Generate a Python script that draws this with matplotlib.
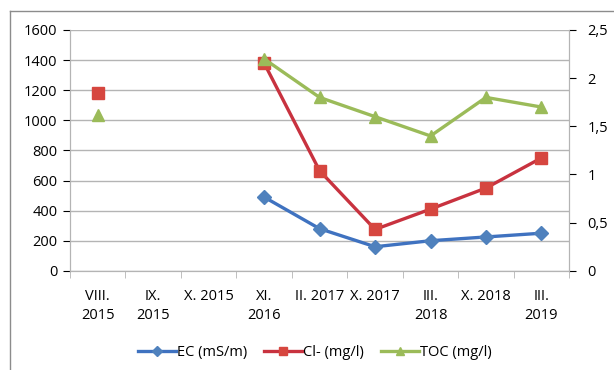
import numpy as np
import matplotlib
matplotlib.use("Agg")
import matplotlib.pyplot as plt
from matplotlib.ticker import FuncFormatter

plt.rcParams['font.family'] = ['Open Sans', 'DejaVu Sans']

# data
dates = ["VIII.\n2015", "IX.\n2015", "X. 2015", "XI.\n2016", "II. 2017",
         "X. 2017", "III.\n2018", "X. 2018", "III.\n2019"]
ec = [np.nan, np.nan, np.nan, 490, 280, 160, 200, 225, 250]
cl = [1180, np.nan, np.nan, 1380, 665, 275, 410, 550, 750]
toc = [1.62, np.nan, np.nan, 2.2, 1.8, 1.6, 1.4, 1.8, 1.7]

c_ec = '#3F72C0'
c_cl = '#C8323F'
c_toc = '#9BBB59'
grid_c = '#B4B4B4'

fig = plt.figure(figsize=(6.14, 3.70), dpi=100)
ax = fig.add_axes([0.114, 0.268, 0.813, 0.651])
ax2 = ax.twinx()

x = np.arange(len(dates))
l1, = ax.plot(x, ec, color=c_ec, lw=2.4, marker='D', ms=7, mfc='#4F81BD', mec='#4F81BD', label='EC (mS/m)')
l2, = ax.plot(x, cl, color=c_cl, lw=2.4, marker='s', ms=9, mfc='#D6463F', mec='#D6463F', label='Cl- (mg/l)')
l3, = ax2.plot(x, toc, color=c_toc, lw=2.4, marker='^', ms=9, mfc='#9BBB59', mec='#9BBB59', label='TOC (mg/l)')

ax.set_xlim(-0.5, len(dates) - 0.5)
ax.set_ylim(0, 1600)
ax.set_yticks(range(0, 1601, 200))
ax2.set_ylim(0, 2.5)
ax2.set_yticks([0, 0.5, 1, 1.5, 2, 2.5])
ax2.yaxis.set_major_formatter(FuncFormatter(lambda v, p: ('%g' % v).replace('.', ',')))

ax.yaxis.grid(True, color=grid_c, lw=1)
ax.set_axisbelow(True)

ax.set_xticks(x)
ax.set_xticklabels(dates, va='top', linespacing=1.4)
ax.set_xticks(np.arange(-0.5, len(dates)), minor=True)
ax.tick_params(axis='x', which='major', length=0, pad=13)
ax.tick_params(axis='x', which='minor', length=5, color=grid_c)
ax.tick_params(axis='y', length=5, color=grid_c, pad=4)
ax2.tick_params(axis='y', length=5, color=grid_c, pad=8)
for a in (ax, ax2):
    a.tick_params(labelsize=10.5, colors='black')
    a.spines['top'].set_visible(False)
    for s in ['left', 'right', 'bottom']:
        a.spines[s].set_color(grid_c)

fig.legend(handles=[l1, l2, l3], loc='center', bbox_to_anchor=(0.513, 0.048), ncol=3,
           frameon=False, fontsize=10.5, handlelength=2.6, columnspacing=1.2, handletextpad=0.05,
           markerscale=0.7)

# chart frame
fig.add_artist(plt.Line2D([0.016, 1.0], [0.97, 0.97], color='#8C8C8C', lw=1))
fig.add_artist(plt.Line2D([0.016, 0.016], [0.0, 0.97], color='#8C8C8C', lw=1))

fig.savefig('out.png', dpi=100)
